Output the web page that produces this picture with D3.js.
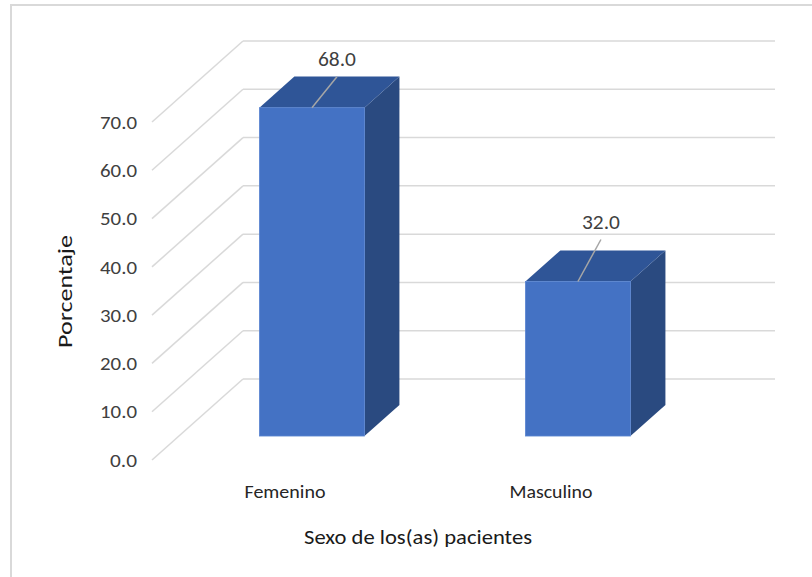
<!DOCTYPE html>
<html><head><meta charset="utf-8">
<script src="https://cdn.jsdelivr.net/npm/d3@7/dist/d3.min.js"></script>
<style>
html,body{margin:0;padding:0;background:#fff;}
svg{display:block;font-family:Carlito, Lato, "Open Sans", sans-serif;}
</style></head>
<body>
<svg id="chart" width="812" height="577"></svg>
<script>
// ---- data ----
const categories = ["Femenino", "Masculino"];
const values = [68.0, 32.0];
const tickValues = [0, 10, 20, 30, 40, 50, 60, 70];
const yTitle = "Porcentaje";
const xTitle = "Sexo de los(as) pacientes";

// ---- layout ----
const svg = d3.select("#chart");
const W = 812, H = 577;
const front = {x0: 152, x1: 684, y0: 460, y1: 122};   // front plane of the 3D box
const depth = {dx: 91, dy: -81};                        // full depth offset
const barT0 = 0.296, barT1 = 0.68;                      // bar depth span (fraction)

const x = d3.scaleBand().domain(categories).range([front.x0, front.x1])
  .paddingInner(0.605).paddingOuter(0.3025);
const y = d3.scaleLinear().domain([0, 70]).range([front.y0, front.y1]);

const off = t => [depth.dx * t, depth.dy * t];

// fit text to a measured width
function fit(sel, w) {
  sel.attr("textLength", w).attr("lengthAdjust", "spacingAndGlyphs");
  return sel;
}

// chart border
svg.append("rect").attr("x", 11).attr("y", 5).attr("width", W + 20).attr("height", H + 20)
  .attr("fill", "none").attr("stroke", "#d9d9d9").attr("stroke-width", 2);

// gridlines: back wall + left wall diagonals
const g = svg.append("g");
tickValues.forEach(v => {
  const yf = y(v);
  g.append("line")
    .attr("x1", front.x0).attr("y1", yf)
    .attr("x2", front.x0 + depth.dx).attr("y2", yf + depth.dy)
    .attr("stroke", "#d9d9d9").attr("stroke-width", 1.5);
  g.append("line")
    .attr("x1", front.x0 + depth.dx).attr("y1", yf + depth.dy)
    .attr("x2", front.x1 + depth.dx).attr("y2", yf + depth.dy)
    .attr("stroke", "#d9d9d9").attr("stroke-width", 1.5);
});

// tick labels
svg.append("g").selectAll("text").data(tickValues).join("text")
  .attr("x", 137).attr("y", d => y(d)).attr("dy", "0.36em")
  .attr("text-anchor", "end").attr("font-size", 18.5).attr("fill", "#404040")
  .attr("textLength", d => d >= 10 ? 37 : 27).attr("lengthAdjust", "spacingAndGlyphs")
  .text(d => d3.format(".1f")(d));

// bars
const bars = svg.append("g");
categories.forEach((c, i) => {
  const v = values[i];
  const [ax, ay] = off(barT0);
  const [bx, by] = off(barT1);
  const xl = x(c) + ax, xr = x(c) + x.bandwidth() + ax;
  const yb = y(0) + ay, yt = y(v) + ay;
  const ddx = bx - ax, ddy = by - ay;
  // right side
  bars.append("path")
    .attr("d", `M${xr},${yb} L${xr + ddx},${yb + ddy} L${xr + ddx},${yt + ddy} L${xr},${yt} Z`)
    .attr("fill", "#2a4a80");
  // top
  bars.append("path")
    .attr("d", `M${xl},${yt} L${xl + ddx},${yt + ddy} L${xr + ddx},${yt + ddy} L${xr},${yt} Z`)
    .attr("fill", "#2f5597");
  // front
  bars.append("rect")
    .attr("x", xl).attr("y", yt).attr("width", xr - xl).attr("height", yb - yt)
    .attr("fill", "#4472c4").attr("stroke", "#5b86d1").attr("stroke-width", 0.8);
  // leader line + data label
  const lift = i === 0 ? 31 : 42;
  const lx0 = xl + x.bandwidth() / 2, ly0 = yt;
  const lx1 = lx0 + (i === 0 ? 25 : 23), ly1 = yt - lift;
  bars.append("line").attr("x1", lx0).attr("y1", ly0).attr("x2", lx1).attr("y2", ly1)
    .attr("stroke", "#a6a6a6").attr("stroke-width", 1.5);
  fit(bars.append("text").attr("x", lx1 - 19).attr("y", ly1 - 11)
    .attr("font-size", 20).attr("fill", "#404040")
    .text(d3.format(".1f")(v)), 38);
  // category label
  const cw = i === 0 ? 81 : 83;
  fit(svg.append("text").attr("x", x(c) + x.bandwidth() / 2 - cw / 2).attr("y", 498)
    .attr("font-size", 18).attr("fill", "#262626")
    .text(c), cw);
});

// axis titles
fit(svg.append("text").attr("x", 304).attr("y", 544)
  .attr("font-size", 21).attr("fill", "#1a1a1a").text(xTitle), 228);
fit(svg.append("text").attr("transform", "translate(72,348) rotate(-90)")
  .attr("font-size", 20).attr("fill", "#1a1a1a").text(yTitle), 113);
</script>
</body></html>
